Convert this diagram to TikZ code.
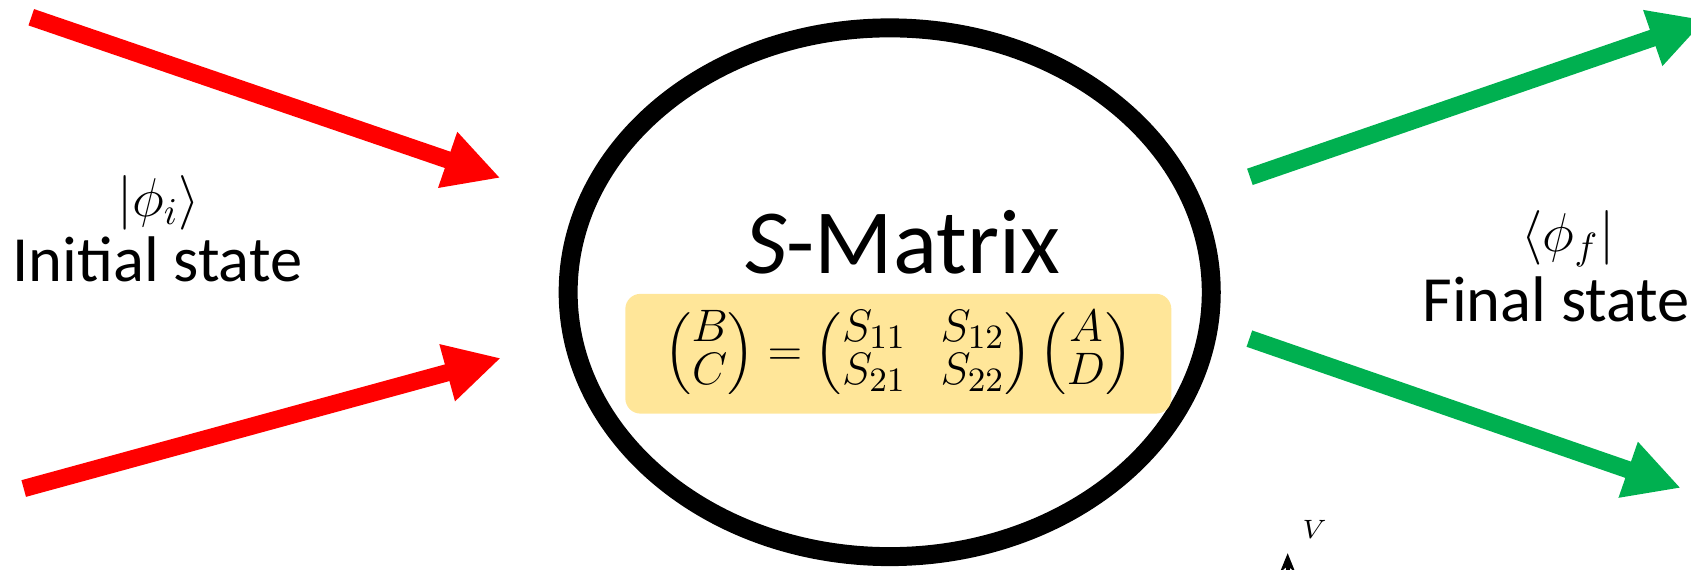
\documentclass[tikz,border=0pt]{standalone}
\usepackage{amsmath}
\usepackage{fontspec}
\setmainfont{Carlito}
\usetikzlibrary{arrows.meta,shapes.geometric}
\definecolor{sred}{HTML}{FF0000}
\definecolor{sgreen}{HTML}{00B050}
\definecolor{sgold}{HTML}{FFE699}

\begin{document}
\begin{tikzpicture}[x=0.01cm,y=-0.01cm,
  fatarrow/.style={line width=4.55pt,-{Triangle[length=14.7pt,width=14.5pt]}},
  lbl/.style={inner sep=0pt,anchor=base,font=\fontsize{17}{19}\selectfont},
  ket/.style={inner sep=0pt,font=\fontsize{14}{16}\selectfont}]
 \clip (0,0) rectangle (1568,528);
 % scattering region
 \node[ellipse,draw,line width=5pt,minimum width=5.96cm,minimum height=4.9cm] (smat) at (825,271) {};
 \node[lbl,font=\fontsize{24.2}{26}\selectfont] (stitle) at (837,254) {\textit{S}-Matrix};
 \node[fill=sgold,rounded corners=4pt,minimum width=5.06cm,minimum height=1.11cm,inner sep=0pt]
   (seq) at (833,328) {\fontsize{13}{13}\selectfont\setlength{\arraycolsep}{4.5pt}\renewcommand{\arraystretch}{0.8}%
   $\begin{pmatrix}B\\C\end{pmatrix}=\begin{pmatrix}S_{11}&S_{12}\\S_{21}&S_{22}\end{pmatrix}\begin{pmatrix}A\\D\end{pmatrix}$};
 % states
 \node[ket] (ketin) at (147,188) {$|\phi_i\rangle$};
 \node[lbl] (lblin) at (146,261) {Initial state};
 \node[ket] (braout) at (1454,221) {$\langle\phi_f|$};
 \node[lbl] (lblout) at (1443,298) {Final state};
 % arrow ends
 \coordinate (in1) at (29,16);   \coordinate (in1e) at (464,165);
 \coordinate (in2) at (22,453);  \coordinate (in2e) at (464.5,332);
 \coordinate (out1) at (1159,164); \coordinate (out1e) at (1581.4,18.4);
 \coordinate (out2) at (1158.5,314); \coordinate (out2e) at (1558.6,452.5);
 \foreach \a/\b/\c in {in1/in1e/sred,in2/in2e/sred,out1/out1e/sgreen,out2/out2e/sgreen}
  \draw[fatarrow,\c] (\a) -- (\b);
 % stray axis
 \coordinate (vbot) at (1194,530);
 \coordinate (vtop) at (1194,513);
 \draw[line width=1pt,-{Stealth[length=5pt,width=4pt]}] (vbot) -- (vtop);
 \node[inner sep=0pt,font=\fontsize{7}{8}\selectfont] (vlab) at (1219,491) {$V$};
\end{tikzpicture}
\end{document}
